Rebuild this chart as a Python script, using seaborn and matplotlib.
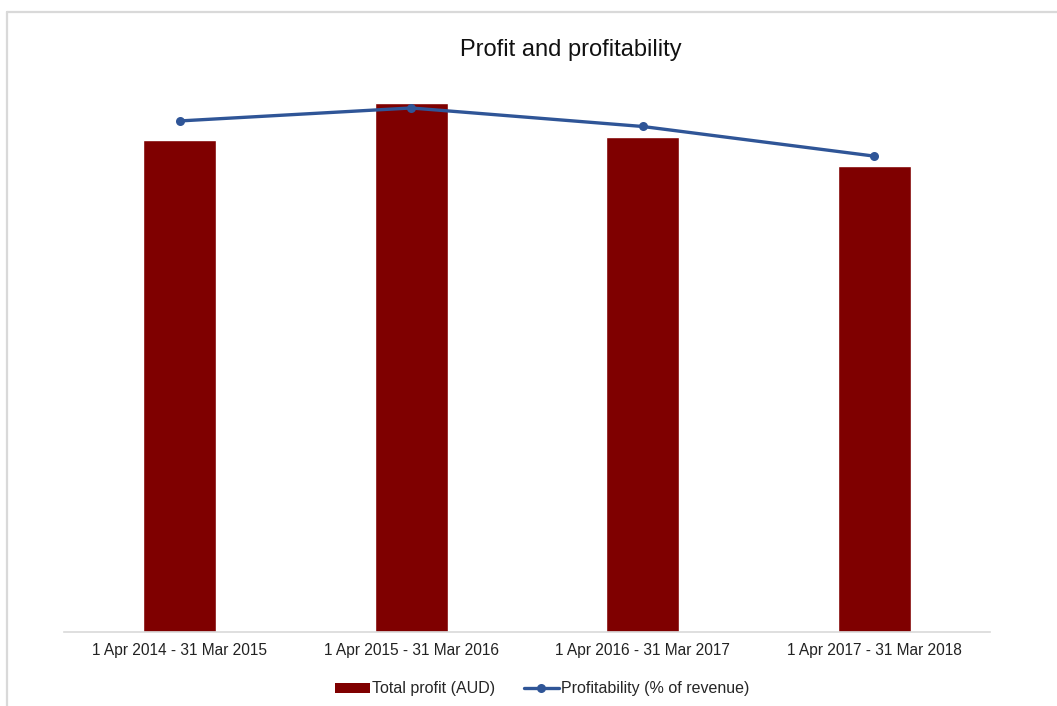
import numpy as np
import pandas as pd
import matplotlib
matplotlib.use("Agg")
import matplotlib.pyplot as plt
from matplotlib.lines import Line2D
from matplotlib.patches import Patch
import seaborn as sns

# Financial years and the two measures reported for each
periods = [
    "1 Apr 2014 - 31 Mar 2015",
    "1 Apr 2015 - 31 Mar 2016",
    "1 Apr 2016 - 31 Mar 2017",
    "1 Apr 2017 - 31 Mar 2018",
]
total_profit = [93000, 100000, 93600, 88100]      # AUD
profitability = [27.6, 28.3, 27.3, 25.7]          # % of revenue

BAR_COLOR = "#7F0000"
LINE_COLOR = "#2F5597"
GRID_GREY = "#D9D9D9"

sns.set_theme(style="white")
plt.rcParams["font.family"] = ["Liberation Sans", "DejaVu Sans"]

fig = plt.figure(figsize=(10.57, 7.06), dpi=100)
ax = fig.add_axes([64 / 1057, 1 - 632 / 706, (990 - 64) / 1057, (632 - 76.5) / 706])

df = pd.DataFrame({"period": periods, "profit": total_profit, "pct": profitability})

sns.barplot(data=df, x="period", y="profit", color=BAR_COLOR, width=0.315,
            saturation=1, ax=ax)
ax.set_ylim(0, 105000)
ax.set_xlim(-0.5, len(periods) - 0.5)

ax2 = ax.twinx()
sns.lineplot(x=np.arange(len(periods)), y=df["pct"], color=LINE_COLOR, linewidth=2.4,
             marker="o", markersize=6.5, markeredgewidth=0, ax=ax2)
ax2.set_ylim(0, 30)

for a in (ax, ax2):
    a.set_ylabel("")
    a.set_xlabel("")
    a.set_yticks([])
    for side in ("top", "left", "right"):
        a.spines[side].set_visible(False)
    a.spines["bottom"].set_color(GRID_GREY)
    a.spines["bottom"].set_linewidth(1.2)
ax2.spines["bottom"].set_visible(False)

ax.tick_params(axis="x", length=0, pad=8, labelsize=11.2, labelcolor="#222222")

fig.text(571 / 1057, 1 - 50 / 706, "Profit and profitability", ha="center", va="center",
         fontsize=17, color="#111111")

handles = [
    Patch(facecolor=BAR_COLOR, edgecolor="none"),
    Line2D([0], [0], color=LINE_COLOR, linewidth=2.4, marker="o", markersize=6.5,
           markeredgewidth=0),
]
fig.legend(handles, ["Total profit (AUD)", "Profitability (% of revenue)"],
           loc="center", bbox_to_anchor=(542 / 1057, 1 - 689 / 706), ncol=2,
           frameon=False, fontsize=11.5, handlelength=2.2, handleheight=0.55,
           handletextpad=0.12, columnspacing=1.8)

# Outer chart frame
fig.add_artist(Line2D([7 / 1057, 7 / 1057], [0, 1 - 12 / 706], transform=fig.transFigure,
                      color=GRID_GREY, linewidth=1.6))
fig.add_artist(Line2D([7 / 1057, 1], [1 - 12 / 706, 1 - 12 / 706], transform=fig.transFigure,
                      color=GRID_GREY, linewidth=1.6))

fig.savefig("out.png", dpi=100, facecolor="white")
